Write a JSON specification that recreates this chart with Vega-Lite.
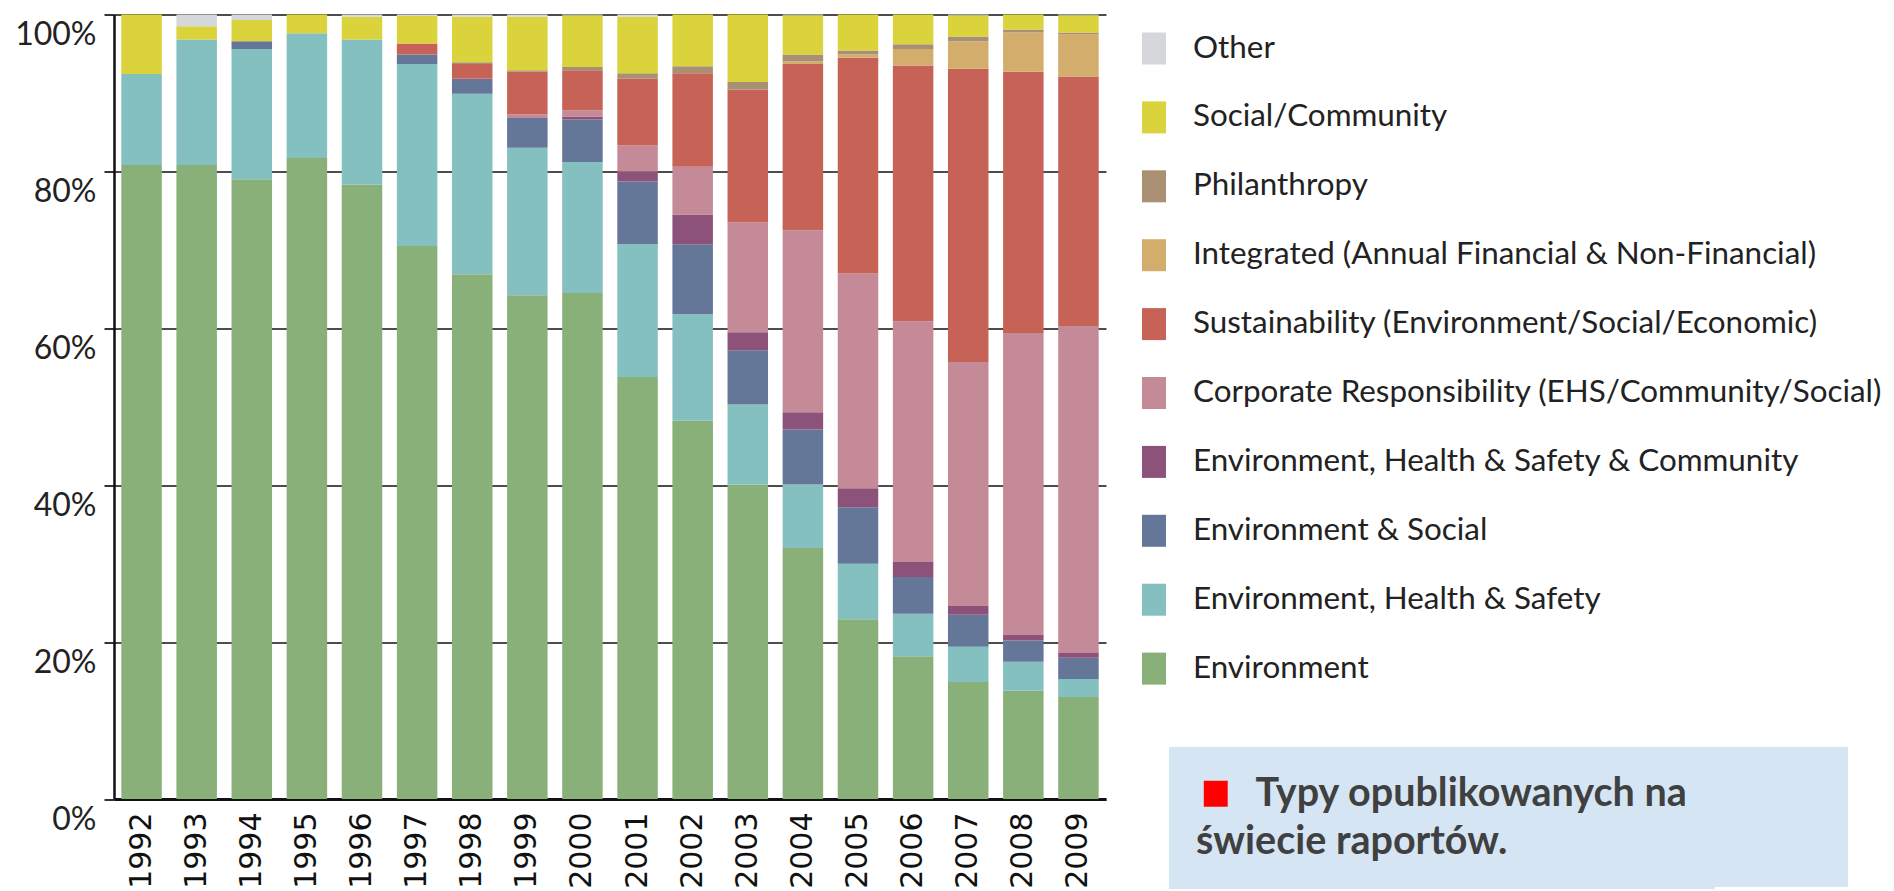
{
  "$schema": "https://vega.github.io/schema/vega-lite/v6.json",
  "width": 992,
  "height": 784.5,
  "autosize": {"type": "none"},
  "padding": {"left": 114, "top": 14.5, "right": 788, "bottom": 92},
  "background": "white",
  "config": {"view": {"stroke": null}},
  "datasets": {
    "stackLayers": [
      {"type": "Environment", "layer": 1},
      {"type": "Environment, Health & Safety", "layer": 2},
      {"type": "Environment & Social", "layer": 3},
      {"type": "Environment, Health & Safety & Community", "layer": 4},
      {"type": "Corporate Responsibility (EHS/Community/Social)", "layer": 5},
      {"type": "Sustainability (Environment/Social/Economic)", "layer": 6},
      {"type": "Integrated (Annual Financial & Non-Financial)", "layer": 7},
      {"type": "Philanthropy", "layer": 8},
      {"type": "Social/Community", "layer": 9},
      {"type": "Other", "layer": 10}
    ]
  },
  "layer": [
    {
      "data": {"values": [
        {"year": "1992", "type": "Environment", "pct": 80.8},
        {"year": "1992", "type": "Environment, Health & Safety", "pct": 11.6},
        {"year": "1992", "type": "Social/Community", "pct": 7.6},
        {"year": "1993", "type": "Environment", "pct": 80.8},
        {"year": "1993", "type": "Environment, Health & Safety", "pct": 16.0},
        {"year": "1993", "type": "Social/Community", "pct": 1.7},
        {"year": "1993", "type": "Other", "pct": 1.5},
        {"year": "1994", "type": "Environment", "pct": 79.0},
        {"year": "1994", "type": "Environment, Health & Safety", "pct": 16.6},
        {"year": "1994", "type": "Environment & Social", "pct": 1.0},
        {"year": "1994", "type": "Social/Community", "pct": 2.7},
        {"year": "1994", "type": "Other", "pct": 0.7},
        {"year": "1995", "type": "Environment", "pct": 81.7},
        {"year": "1995", "type": "Environment, Health & Safety", "pct": 15.9},
        {"year": "1995", "type": "Social/Community", "pct": 2.4},
        {"year": "1996", "type": "Environment", "pct": 78.3},
        {"year": "1996", "type": "Environment, Health & Safety", "pct": 18.5},
        {"year": "1996", "type": "Social/Community", "pct": 2.9},
        {"year": "1996", "type": "Other", "pct": 0.3},
        {"year": "1997", "type": "Environment", "pct": 70.5},
        {"year": "1997", "type": "Environment, Health & Safety", "pct": 23.2},
        {"year": "1997", "type": "Environment & Social", "pct": 1.2},
        {"year": "1997", "type": "Sustainability (Environment/Social/Economic)", "pct": 1.4},
        {"year": "1997", "type": "Social/Community", "pct": 3.5},
        {"year": "1997", "type": "Other", "pct": 0.2},
        {"year": "1998", "type": "Environment", "pct": 66.9},
        {"year": "1998", "type": "Environment, Health & Safety", "pct": 23.0},
        {"year": "1998", "type": "Environment & Social", "pct": 1.9},
        {"year": "1998", "type": "Sustainability (Environment/Social/Economic)", "pct": 1.9},
        {"year": "1998", "type": "Philanthropy", "pct": 0.2},
        {"year": "1998", "type": "Social/Community", "pct": 5.8},
        {"year": "1998", "type": "Other", "pct": 0.3},
        {"year": "1999", "type": "Environment", "pct": 64.2},
        {"year": "1999", "type": "Environment, Health & Safety", "pct": 18.8},
        {"year": "1999", "type": "Environment & Social", "pct": 3.8},
        {"year": "1999", "type": "Corporate Responsibility (EHS/Community/Social)", "pct": 0.5},
        {"year": "1999", "type": "Sustainability (Environment/Social/Economic)", "pct": 5.4},
        {"year": "1999", "type": "Philanthropy", "pct": 0.2},
        {"year": "1999", "type": "Social/Community", "pct": 6.8},
        {"year": "1999", "type": "Other", "pct": 0.3},
        {"year": "2000", "type": "Environment", "pct": 64.5},
        {"year": "2000", "type": "Environment, Health & Safety", "pct": 16.7},
        {"year": "2000", "type": "Environment & Social", "pct": 5.4},
        {"year": "2000", "type": "Environment, Health & Safety & Community", "pct": 0.4},
        {"year": "2000", "type": "Corporate Responsibility (EHS/Community/Social)", "pct": 0.8},
        {"year": "2000", "type": "Sustainability (Environment/Social/Economic)", "pct": 5.1},
        {"year": "2000", "type": "Philanthropy", "pct": 0.4},
        {"year": "2000", "type": "Social/Community", "pct": 6.6},
        {"year": "2000", "type": "Other", "pct": 0.1},
        {"year": "2001", "type": "Environment", "pct": 53.8},
        {"year": "2001", "type": "Environment, Health & Safety", "pct": 16.9},
        {"year": "2001", "type": "Environment & Social", "pct": 8.0},
        {"year": "2001", "type": "Environment, Health & Safety & Community", "pct": 1.3},
        {"year": "2001", "type": "Corporate Responsibility (EHS/Community/Social)", "pct": 3.3},
        {"year": "2001", "type": "Sustainability (Environment/Social/Economic)", "pct": 8.5},
        {"year": "2001", "type": "Philanthropy", "pct": 0.7},
        {"year": "2001", "type": "Social/Community", "pct": 7.2},
        {"year": "2001", "type": "Other", "pct": 0.3},
        {"year": "2002", "type": "Environment", "pct": 48.2},
        {"year": "2002", "type": "Environment, Health & Safety", "pct": 13.6},
        {"year": "2002", "type": "Environment & Social", "pct": 8.9},
        {"year": "2002", "type": "Environment, Health & Safety & Community", "pct": 3.8},
        {"year": "2002", "type": "Corporate Responsibility (EHS/Community/Social)", "pct": 6.1},
        {"year": "2002", "type": "Sustainability (Environment/Social/Economic)", "pct": 11.9},
        {"year": "2002", "type": "Philanthropy", "pct": 0.9},
        {"year": "2002", "type": "Social/Community", "pct": 6.6},
        {"year": "2003", "type": "Environment", "pct": 40.1},
        {"year": "2003", "type": "Environment, Health & Safety", "pct": 10.2},
        {"year": "2003", "type": "Environment & Social", "pct": 6.9},
        {"year": "2003", "type": "Environment, Health & Safety & Community", "pct": 2.3},
        {"year": "2003", "type": "Corporate Responsibility (EHS/Community/Social)", "pct": 14.0},
        {"year": "2003", "type": "Sustainability (Environment/Social/Economic)", "pct": 16.9},
        {"year": "2003", "type": "Philanthropy", "pct": 1.0},
        {"year": "2003", "type": "Social/Community", "pct": 8.6},
        {"year": "2004", "type": "Environment", "pct": 32.0},
        {"year": "2004", "type": "Environment, Health & Safety", "pct": 8.1},
        {"year": "2004", "type": "Environment & Social", "pct": 7.0},
        {"year": "2004", "type": "Environment, Health & Safety & Community", "pct": 2.2},
        {"year": "2004", "type": "Corporate Responsibility (EHS/Community/Social)", "pct": 23.2},
        {"year": "2004", "type": "Sustainability (Environment/Social/Economic)", "pct": 21.2},
        {"year": "2004", "type": "Integrated (Annual Financial & Non-Financial)", "pct": 0.3},
        {"year": "2004", "type": "Philanthropy", "pct": 0.9},
        {"year": "2004", "type": "Social/Community", "pct": 5.0},
        {"year": "2004", "type": "Other", "pct": 0.1},
        {"year": "2005", "type": "Environment", "pct": 22.9},
        {"year": "2005", "type": "Environment, Health & Safety", "pct": 7.1},
        {"year": "2005", "type": "Environment & Social", "pct": 7.2},
        {"year": "2005", "type": "Environment, Health & Safety & Community", "pct": 2.4},
        {"year": "2005", "type": "Corporate Responsibility (EHS/Community/Social)", "pct": 27.4},
        {"year": "2005", "type": "Sustainability (Environment/Social/Economic)", "pct": 27.5},
        {"year": "2005", "type": "Integrated (Annual Financial & Non-Financial)", "pct": 0.4},
        {"year": "2005", "type": "Philanthropy", "pct": 0.5},
        {"year": "2005", "type": "Social/Community", "pct": 4.6},
        {"year": "2006", "type": "Environment", "pct": 18.2},
        {"year": "2006", "type": "Environment, Health & Safety", "pct": 5.4},
        {"year": "2006", "type": "Environment & Social", "pct": 4.7},
        {"year": "2006", "type": "Environment, Health & Safety & Community", "pct": 1.9},
        {"year": "2006", "type": "Corporate Responsibility (EHS/Community/Social)", "pct": 30.7},
        {"year": "2006", "type": "Sustainability (Environment/Social/Economic)", "pct": 32.6},
        {"year": "2006", "type": "Integrated (Annual Financial & Non-Financial)", "pct": 2.1},
        {"year": "2006", "type": "Philanthropy", "pct": 0.6},
        {"year": "2006", "type": "Social/Community", "pct": 3.8},
        {"year": "2007", "type": "Environment", "pct": 14.9},
        {"year": "2007", "type": "Environment, Health & Safety", "pct": 4.5},
        {"year": "2007", "type": "Environment & Social", "pct": 4.1},
        {"year": "2007", "type": "Environment, Health & Safety & Community", "pct": 1.1},
        {"year": "2007", "type": "Corporate Responsibility (EHS/Community/Social)", "pct": 31.1},
        {"year": "2007", "type": "Sustainability (Environment/Social/Economic)", "pct": 37.4},
        {"year": "2007", "type": "Integrated (Annual Financial & Non-Financial)", "pct": 3.5},
        {"year": "2007", "type": "Philanthropy", "pct": 0.6},
        {"year": "2007", "type": "Social/Community", "pct": 2.7},
        {"year": "2007", "type": "Other", "pct": 0.1},
        {"year": "2008", "type": "Environment", "pct": 13.8},
        {"year": "2008", "type": "Environment, Health & Safety", "pct": 3.7},
        {"year": "2008", "type": "Environment & Social", "pct": 2.7},
        {"year": "2008", "type": "Environment, Health & Safety & Community", "pct": 0.7},
        {"year": "2008", "type": "Corporate Responsibility (EHS/Community/Social)", "pct": 38.5},
        {"year": "2008", "type": "Sustainability (Environment/Social/Economic)", "pct": 33.3},
        {"year": "2008", "type": "Integrated (Annual Financial & Non-Financial)", "pct": 5.0},
        {"year": "2008", "type": "Philanthropy", "pct": 0.4},
        {"year": "2008", "type": "Social/Community", "pct": 1.9},
        {"year": "2009", "type": "Environment", "pct": 13.0},
        {"year": "2009", "type": "Environment, Health & Safety", "pct": 2.3},
        {"year": "2009", "type": "Environment & Social", "pct": 2.7},
        {"year": "2009", "type": "Environment, Health & Safety & Community", "pct": 0.6},
        {"year": "2009", "type": "Corporate Responsibility (EHS/Community/Social)", "pct": 41.7},
        {"year": "2009", "type": "Sustainability (Environment/Social/Economic)", "pct": 31.8},
        {"year": "2009", "type": "Integrated (Annual Financial & Non-Financial)", "pct": 5.4},
        {"year": "2009", "type": "Philanthropy", "pct": 0.2},
        {"year": "2009", "type": "Social/Community", "pct": 2.2},
        {"year": "2009", "type": "Other", "pct": 0.1}
      ]},
      "transform": [
        {"lookup": "type", "from": {"data": {"name": "stackLayers"}, "key": "type", "fields": ["layer"]}}
      ],
      "mark": {"type": "bar", "strokeWidth": 0},
      "encoding": {
        "x": {
          "field": "year", "type": "ordinal",
          "scale": {"paddingInner": 0.265, "paddingOuter": 0.1325},
          "axis": {
            "title": null, "labelAngle": -90, "labelFont": "DejaVu Sans", "labelFontSize": 30,
            "labelColor": "#111111", "ticks": false, "tickSize": 0, "labelPadding": 13,
            "domainColor": "#111111", "domainWidth": 3
          }
        },
        "y": {
          "field": "pct", "type": "quantitative", "stack": "zero",
          "scale": {"domain": [0, 100], "nice": false},
          "axis": {
            "title": null, "values": [0, 20, 40, 60, 80, 100], "labelExpr": "datum.value + '%'",
            "grid": true, "gridColor": "#4d4d4d", "gridWidth": 2,
            "domainColor": "#111111", "domainWidth": 2.5,
            "tickColor": "#333333", "tickSize": 10, "tickWidth": 2,
            "labelPadding": 8, "labelFont": "Lato", "labelFontSize": 32, "labelColor": "#222222",
            "labelOffset": 20, "labelBaseline": "middle"
          }
        },
        "order": {"field": "layer", "type": "quantitative", "sort": "ascending"},
        "color": {
          "field": "type", "type": "nominal",
          "scale": {
            "domain": ["Other", "Social/Community", "Philanthropy", "Integrated (Annual Financial & Non-Financial)", "Sustainability (Environment/Social/Economic)", "Corporate Responsibility (EHS/Community/Social)", "Environment, Health & Safety & Community", "Environment & Social", "Environment, Health & Safety", "Environment"],
            "range": ["#d6d7db", "#dbd33c", "#a99072", "#d2ad6c", "#c66356", "#c48a98", "#8c527a", "#657799", "#84c0bf", "#8ab07a"]
          },
          "legend": {
            "orient": "none", "legendX": 1024, "legendY": 18, "padding": 0, "title": null,
            "symbolType": "M-0.75,-1H0.75V1H-0.75Z", "symbolSize": 1024, "symbolStrokeWidth": 0,
            "labelFont": "Lato", "labelFontSize": 31.4,
            "labelColor": "#222222", "labelOffset": 23, "rowPadding": 36.9, "labelLimit": 1000
          }
        }
      }
    },
    {
      "data": {"values": []},
      "mark": {"type": "line"},
      "encoding": {
        "strokeDash": {
          "datum": "box",
          "legend": {
            "orient": "none", "legendX": 1590, "legendY": 732.5, "padding": 0,
            "fillColor": "#d6e5f4", "strokeColor": null, "title": null,
            "labelExpr": "''", "labelOffset": 4, "labelFontSize": 1,
            "symbolType": "square", "symbolSize": 19600, "symbolOpacity": 0, "symbolStrokeWidth": 0,
            "encode": {"symbols": {"update": {"opacity": {"value": 0}}}}
          }
        }
      }
    },
    {
      "data": {"values": []},
      "mark": {"type": "point", "filled": true, "color": "#ff0000"},
      "encoding": {
        "shape": {
          "datum": "Typy opublikowanych na",
          "scale": {"range": ["M-0.92,-1H0.92V1H-0.92Z"]},
          "legend": {
            "orient": "none", "legendX": 1055, "legendY": 732.5, "padding": 27,
            "fillColor": "#d6e5f4", "strokeColor": null,
            "title": "świecie raportów.", "titleOrient": "bottom", "titleAnchor": "start",
            "titleFont": "Lato", "titleFontSize": 39.5, "titleFontWeight": "bold", "titleColor": "#404040",
            "titlePadding": 10, "titleLimit": 1000,
            "labelFont": "Lato", "labelFontSize": 39.5, "labelFontWeight": "bold", "labelColor": "#404040",
            "labelOffset": 20, "labelLimit": 1000,
            "symbolSize": 676, "symbolFillColor": "#ff0000", "symbolStrokeWidth": 0, "symbolOpacity": 1,
            "encode": {"symbols": {"update": {"fill": {"value": "#ff0000"}, "opacity": {"value": 1}}}}
          }
        }
      }
    }
  ]
}
